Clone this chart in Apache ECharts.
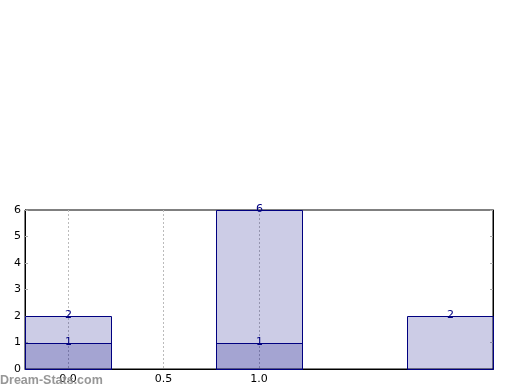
<!DOCTYPE html>
<html><head><meta charset="utf-8">
<script src="https://cdn.jsdelivr.net/npm/echarts@6/dist/echarts.min.js"></script>
<style>html,body{margin:0;padding:0;background:#fff}#c{width:520px;height:390px}</style>
</head><body><div id="c"></div>
<script>
const xPositions = [0, 1, 2];
const totalCounts = [2, 6, 2];
const subXPositions = [0, 1];
const subCounts = [1, 1];
const xTickValues = [0, 0.5, 1];
const yTicks = [0, 1, 2, 3, 4, 5, 6];
const HALF = 0.225;
const FONT = 'DejaVu Sans';

function renderBar(params, api) {
  const x = api.value(0), y = api.value(1);
  const p0 = api.coord([x - HALF, y]);
  const p1 = api.coord([x + HALF, 0]);
  const x0 = Math.round(p0[0]) + 0.5, x1 = Math.round(p1[0]) + 0.5;
  const y0 = Math.round(p0[1]) + 0.5, y1 = Math.round(p1[1]) + 0.5;
  return {
    type: 'group',
    children: [
      { type: 'rect', shape: { x: x0, y: y0, width: x1 - x0, height: y1 - y0 },
        style: { fill: 'rgba(0,0,128,0.2)', stroke: '#000080', lineWidth: 1 } },
      { type: 'text', z2: 10, style: { text: String(y), x: (x0 + x1) / 2, y: y0 + 4,
        align: 'center', verticalAlign: 'bottom', fill: '#000080', font: '11px "' + FONT + '"' } }
    ]
  };
}

const chart = echarts.init(document.getElementById('c'));
chart.setOption({
  animation: false,
  grid: { left: 25, right: 27, top: 210, bottom: 21, show: true, borderColor: '#000', borderWidth: 1, backgroundColor: 'transparent' },
  xAxis: {
    type: 'value', min: -HALF, max: 2 + HALF,
    axisLine: { show: true, onZero: false, lineStyle: { color: '#000' } },
    axisTick: { show: false, customValues: xTickValues },
    axisLabel: { customValues: xTickValues, formatter: v => v.toFixed(1), color: '#000', fontFamily: FONT, fontSize: 11, margin: 5 },
    splitLine: { show: true, lineStyle: { color: '#bbb', type: [2, 2], width: 1 } }
  },
  yAxis: [{
    type: 'value', min: 0, max: 6, interval: 1,
    axisLine: { show: true, onZero: false, lineStyle: { color: '#000' } },
    axisTick: { show: true, inside: true, length: 3, lineStyle: { color: '#aaa' } },
    axisLabel: { color: '#000', fontFamily: FONT, fontSize: 11, margin: 4, showMinLabel: true, showMaxLabel: true },
    splitLine: { show: false }
  }, {
    type: 'value', min: 0, max: 6, interval: 1, position: 'right',
    axisLine: { show: true, onZero: false, lineStyle: { color: '#000' } },
    axisTick: { show: true, inside: true, length: 3, lineStyle: { color: '#aaa' } },
    axisLabel: { show: false }, splitLine: { show: false }
  }],
  graphic: [{ type: 'text', left: 0, bottom: 3, z: 100,
    style: { text: 'Dream-Stats.com', fill: 'rgba(140,140,140,0.9)', font: 'bold 12.5px "Liberation Sans"' } }],
  series: [
    { type: 'custom', renderItem: renderBar, data: xPositions.map((x, i) => [x, totalCounts[i]]), clip: false, z: 2 },
    { type: 'custom', renderItem: renderBar, data: subXPositions.map((x, i) => [x, subCounts[i]]), clip: false, z: 3 }
  ]
});
</script></body></html>
